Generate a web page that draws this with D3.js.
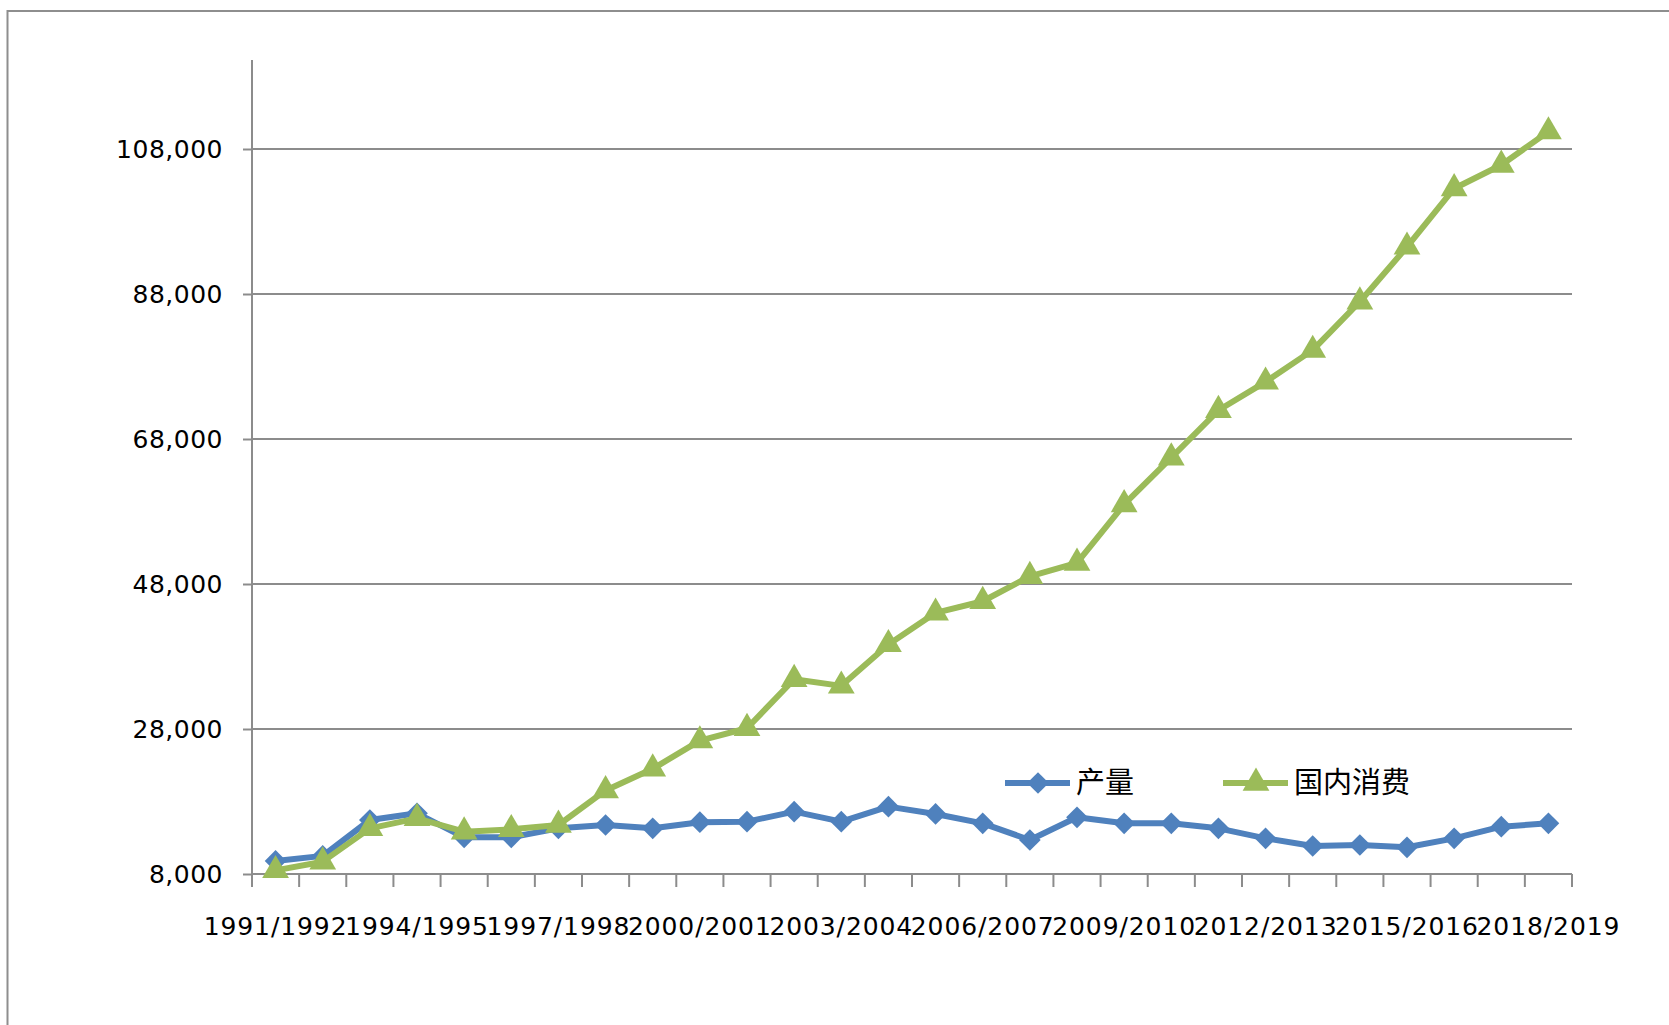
<!DOCTYPE html>
<html>
<head>
<meta charset="utf-8">
<script src="https://cdn.jsdelivr.net/npm/d3@7"></script>
<style>
  body { margin: 0; background: #fff; }
  svg { display: block; }
</style>
</head>
<body>
<div class="canvas"></div>
<script>
// seasons, 1991/1992 .. 2018/2019
const seasons = d3.range(1991, 2019).map(y => `${y}/${y + 1}`)

// 产量 (production)
const output = [
    9800, 10500, 15450, 16370, 13060, 13060, 14300, 14760, 14300, 15150,
    15220, 16600, 15220, 17290, 16280, 14990, 12690, 15820, 14990, 14990,
    14300, 12920, 11860, 12000, 11680, 12920, 14530, 14990
]

// 国内消费 (domestic consumption)
const consumption = [
    8500, 9700, 14300, 15680, 13840, 14160, 14760, 19530, 22510, 26400,
    28100, 34860, 33950, 39670, 44020, 45620, 49060, 50900, 58970, 65420,
    71960, 75880, 80260, 86940, 94500, 102560, 105800, 110400
]

const yTicks = [8000, 28000, 48000, 68000, 88000, 108000]
const xLabelEvery = 3

const series = [
    { name: '产量', values: output, colour: '#4F81BD', shape: 'diamond' },
    { name: '国内消费', values: consumption, colour: '#9BBB59', shape: 'triangle' }
]

const dims = { width: 1669, height: 1025 }
const plot = { left: 252, right: 1572, top: 62, bottom: 874 }

const svg = d3.select('.canvas')
    .append('svg')
    .attr('width', dims.width)
    .attr('height', dims.height)

// outer chart frame (runs off the right / bottom edge)
svg.append('rect')
    .attr('x', 7.5).attr('y', 11)
    .attr('width', dims.width + 20).attr('height', dims.height + 20)
    .attr('fill', 'none')
    .attr('stroke', '#8e8e8e')
    .attr('stroke-width', 2)

const x = d3.scaleBand()
    .domain(seasons)
    .range([plot.left, plot.right])

const y = d3.scaleLinear()
    .domain([8000, 120000])
    .range([plot.bottom, plot.top])

// gridlines
svg.append('g')
    .selectAll('line')
    .data(yTicks.filter(d => d > 8000))
    .enter().append('line')
        .attr('x1', plot.left).attr('x2', plot.right)
        .attr('y1', d => y(d)).attr('y2', d => y(d))
        .attr('stroke', '#8c8c8c')
        .attr('stroke-width', 2)

// y axis
const yAxis = d3.axisLeft(y)
    .tickValues(yTicks)
    .tickFormat(d3.format(','))
    .tickSize(9)
    .tickPadding(20)

svg.append('g')
    .attr('transform', `translate(${plot.left},0)`)
    .call(yAxis)
    .call(g => g.select('.domain').remove())
    .call(g => g.selectAll('line').attr('stroke', '#8c8c8c').attr('stroke-width', 2))
    .call(g => g.selectAll('text')
        .attr('font-family', 'DejaVu Sans')
        .attr('font-size', 25)
        .attr('letter-spacing', 0.5)
        .attr('fill', '#000'))

svg.append('line')
    .attr('x1', plot.left).attr('x2', plot.left)
    .attr('y1', plot.top - 2).attr('y2', plot.bottom + 13)
    .attr('stroke', '#8c8c8c').attr('stroke-width', 2)

// x axis: ticks at category boundaries, labels every 3rd season
const bounds = seasons.map(s => x(s)).concat([plot.right])
const xAxisG = svg.append('g')

xAxisG.append('line')
    .attr('x1', plot.left).attr('x2', plot.right)
    .attr('y1', plot.bottom).attr('y2', plot.bottom)
    .attr('stroke', '#8c8c8c').attr('stroke-width', 2)

xAxisG.selectAll('.tick')
    .data(bounds)
    .enter().append('line')
        .attr('x1', d => d).attr('x2', d => d)
        .attr('y1', plot.bottom).attr('y2', plot.bottom + 13)
        .attr('stroke', '#8c8c8c').attr('stroke-width', 2)

xAxisG.selectAll('text')
    .data(seasons.filter((s, i) => i % xLabelEvery === 0))
    .enter().append('text')
        .attr('x', d => x(d) + x.bandwidth() / 2)
        .attr('y', 935)
        .attr('text-anchor', 'middle')
        .attr('font-family', 'DejaVu Sans')
        .attr('font-size', 25)
        .attr('letter-spacing', 0.9)
        .attr('fill', '#000')
        .text(d => d)

// markers
const diamond = d3.symbol().type(d3.symbolDiamond2).size(300)
const triangle = d3.symbol().type(d3.symbolTriangle).size(310)
const shapeFor = s => s === 'diamond' ? diamond() : triangle()

const line = d3.line()
    .x((d, i) => x(seasons[i]) + x.bandwidth() / 2)
    .y(d => y(d))

series.forEach(s => {
    const g = svg.append('g')
    g.append('path')
        .attr('d', line(s.values))
        .attr('fill', 'none')
        .attr('stroke', s.colour)
        .attr('stroke-width', 6)
        .attr('stroke-linejoin', 'round')

    g.selectAll('path.mark')
        .data(s.values)
        .enter().append('path')
            .attr('class', 'mark')
            .attr('d', shapeFor(s.shape))
            .attr('transform', (d, i) =>
                `translate(${x(seasons[i]) + x.bandwidth() / 2},${y(d)})`)
            .attr('fill', s.colour)
})

// legend
const legendItems = [
    { s: series[0], x: 1005, tx: 1076 },
    { s: series[1], x: 1223, tx: 1294 }
]
const legendY = 783

legendItems.forEach(item => {
    const g = svg.append('g')
    g.append('line')
        .attr('x1', item.x).attr('x2', item.x + 65)
        .attr('y1', legendY).attr('y2', legendY)
        .attr('stroke', item.s.colour)
        .attr('stroke-width', 6)
    g.append('path')
        .attr('d', shapeFor(item.s.shape))
        .attr('transform', `translate(${item.x + 33},${legendY})`)
        .attr('fill', item.s.colour)
    g.append('text')
        .attr('x', item.tx)
        .attr('y', legendY)
        .attr('dy', '0.36em')
        .attr('font-family', 'Noto Sans CJK SC')
        .attr('font-size', 29)
        .attr('fill', '#000')
        .text(item.s.name)
})
</script>
</body>
</html>
